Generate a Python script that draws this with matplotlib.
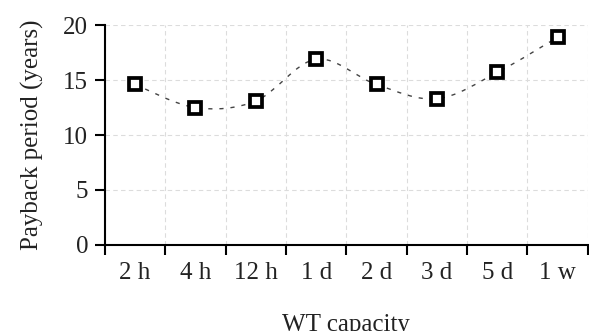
import numpy as np
import matplotlib
matplotlib.use("Agg")
import matplotlib.pyplot as plt
from matplotlib.path import Path
from matplotlib.patches import PathPatch

capacity = ["2 h", "4 h", "12 h", "1 d", "2 d", "3 d", "5 d", "1 w"]
payback = [14.6, 12.5, 13.1, 16.9, 14.6, 13.3, 15.7, 18.9]

plt.rcParams["font.family"] = ["Liberation Serif", "DejaVu Serif"]

fig = plt.figure(figsize=(5.89, 3.31), dpi=100)
ax = fig.add_axes([0.178, 0.26, 0.82, 0.664])

x = np.arange(len(payback))
y = np.array(payback)

# smoothed line (Catmull-Rom as cubic bezier) like the spreadsheet "smooth line"
pts = np.column_stack([x, y])
verts = [pts[0]]
codes = [Path.MOVETO]
for i in range(len(pts) - 1):
    p0 = pts[i - 1] if i > 0 else pts[i]
    p1 = pts[i]
    p2 = pts[i + 1]
    p3 = pts[i + 2] if i + 2 < len(pts) else pts[i + 1]
    c1 = p1 + (p2 - p0) / 6.0
    c2 = p2 - (p3 - p1) / 6.0
    verts += [c1, c2, p2]
    codes += [Path.CURVE4] * 3
ax.add_patch(PathPatch(Path(verts, codes), fill=False, edgecolor="#444444",
                       lw=1.0, linestyle=(0, (3, 5)), zorder=2))

ax.plot(x, y, linestyle="none", marker="s", markersize=8, markerfacecolor="white",
        markeredgecolor="black", markeredgewidth=2.7, zorder=3)

ax.set_xlim(-0.5, len(payback) - 0.5)
ax.set_ylim(0, 20)
ax.set_yticks([0, 5, 10, 15, 20])
ax.set_xticks(np.arange(len(payback) + 1) - 0.5)
ax.set_xticklabels([])
ax.set_xticks(x, minor=True)
ax.set_xticklabels(capacity, minor=True)
ax.tick_params(axis="x", which="major", length=7, width=1.5, direction="out")
ax.tick_params(axis="x", which="minor", length=0, pad=12, labelsize=18, labelcolor="#222222")
ax.tick_params(axis="y", length=7, width=1.5, labelsize=18, pad=5, labelcolor="#222222")

ax.grid(True, which="major", color="#dcdcdc", linestyle=(0, (4, 3)), lw=0.8)
for s in ["top", "right"]:
    ax.spines[s].set_visible(False)
for s in ["left", "bottom"]:
    ax.spines[s].set_linewidth(1.5)

ax.set_ylabel("Payback period (years)", fontsize=18, labelpad=14, color="#222222")
ax.set_xlabel("WT capacity", fontsize=18, labelpad=22, color="#222222")

fig.savefig("out.png", dpi=100)
